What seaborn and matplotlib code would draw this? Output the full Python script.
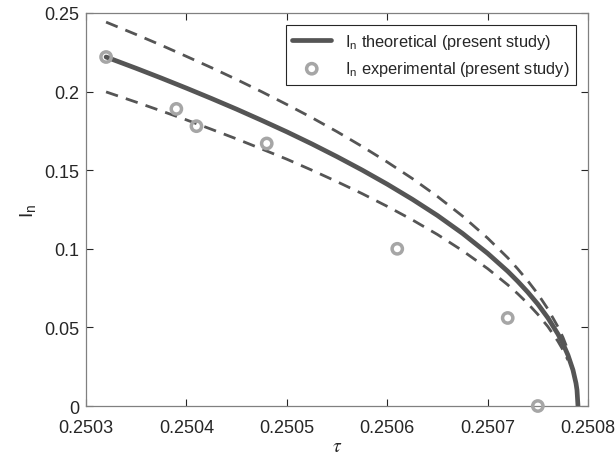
import numpy as np
import pandas as pd
import matplotlib
matplotlib.use('Agg')
import matplotlib.pyplot as plt
import seaborn as sns

# theoretical curve
tau_theory = [0.25032, 0.25035, 0.250375, 0.25040, 0.250425, 0.25045, 0.250475, 0.25050,
              0.250525, 0.25055, 0.250575, 0.25060, 0.250625, 0.25065, 0.250675, 0.25070,
              0.25072, 0.25073, 0.25074, 0.25075, 0.25076, 0.25077, 0.250775, 0.25078,
              0.250785, 0.250788, 0.250789, 0.25079]
I_theory = [0.2220, 0.2148, 0.2086, 0.2022, 0.1956, 0.1888, 0.1817, 0.1744,
            0.1667, 0.1586, 0.1501, 0.1411, 0.1315, 0.1212, 0.1098, 0.0971,
            0.0857, 0.0793, 0.0724, 0.0648, 0.0561, 0.0458, 0.0397, 0.0324,
            0.0229, 0.0145, 0.0102, 0.0]

# dashed bounds
tau_band = tau_theory[:24]
I_upper = [0.2442, 0.2363, 0.2295, 0.2224, 0.2152, 0.2077, 0.1999, 0.1918,
           0.1834, 0.1745, 0.1651, 0.1552, 0.1447, 0.1333, 0.1208, 0.1068,
           0.0943, 0.0872, 0.0796, 0.0713, 0.0617, 0.0504, 0.0437, 0.0356]
I_lower = [0.1998, 0.1933, 0.1877, 0.1820, 0.1760, 0.1699, 0.1635, 0.1570,
           0.1500, 0.1427, 0.1351, 0.1270, 0.1184, 0.1091, 0.0988, 0.0874,
           0.0771, 0.0714, 0.0652, 0.0583, 0.0505, 0.0412, 0.0357, 0.0292]

# experimental points
tau_exp = [0.25032, 0.25039, 0.25041, 0.25048, 0.25061, 0.25072, 0.25075]
I_exp = [0.222, 0.189, 0.178, 0.167, 0.100, 0.056, 0.0]

x_ticks = [0.2503, 0.2504, 0.2505, 0.2506, 0.2507, 0.2508]
x_labels = ['0.2503', '0.2504', '0.2505', '0.2506', '0.2507', '0.2508']
y_ticks = [0, 0.05, 0.1, 0.15, 0.2, 0.25]
y_labels = ['0', '0.05', '0.1', '0.15', '0.2', '0.25']

sns.set_style('ticks')
plt.rcParams['font.family'] = ['Liberation Sans', 'DejaVu Sans']
plt.rcParams['mathtext.fontset'] = 'stix'

fig = plt.figure(figsize=(6.16, 4.6), dpi=100)
ax = fig.add_axes([0.1396, 0.1152, 0.815, 0.8544])

line_col = '#555555'
sns.lineplot(x=tau_band, y=I_upper, ax=ax, color=line_col, lw=2, linestyle=(0, (4.5, 3)), zorder=2)
sns.lineplot(x=tau_band, y=I_lower, ax=ax, color=line_col, lw=2, linestyle=(0, (4.5, 3)), zorder=2)
sns.lineplot(x=tau_theory, y=I_theory, ax=ax, color=line_col, lw=3.4, zorder=3,
             label=r'$\mathregular{I_n}$ theoretical (present study)')
sns.scatterplot(x=tau_exp, y=I_exp, ax=ax, s=55, facecolor='none', edgecolor='#a6a6a6',
                linewidth=2.5, zorder=4, clip_on=False,
                label=r'$\mathregular{I_n}$ experimental (present study)')

ax.set_xlim(0.2503, 0.2508)
ax.set_ylim(0, 0.25)
ax.set_xticks(x_ticks)
ax.set_xticklabels(x_labels)
ax.set_yticks(y_ticks)
ax.set_yticklabels(y_labels)
ax.tick_params(direction='in', top=True, right=True, labelsize=13, colors='#262626',
               length=5, width=0.8)
ax.tick_params(axis='x', pad=9)
ax.tick_params(axis='y', pad=5)
for sp in ax.spines.values():
    sp.set_color('#808080')
    sp.set_linewidth(0.9)
    sp.set_visible(True)

ax.set_xlabel(r'$\tau$', fontsize=14, color='#262626', labelpad=2)
ax.set_ylabel(r'$\mathregular{I_n}$', fontsize=14, color='#262626', labelpad=4)

leg = ax.legend(loc='upper right', fontsize=11.8, frameon=True, fancybox=False,
                edgecolor='#262626', framealpha=1, borderaxespad=0.75, handlelength=2.4)
leg.get_frame().set_linewidth(0.8)

fig.savefig('out.png', dpi=100)
